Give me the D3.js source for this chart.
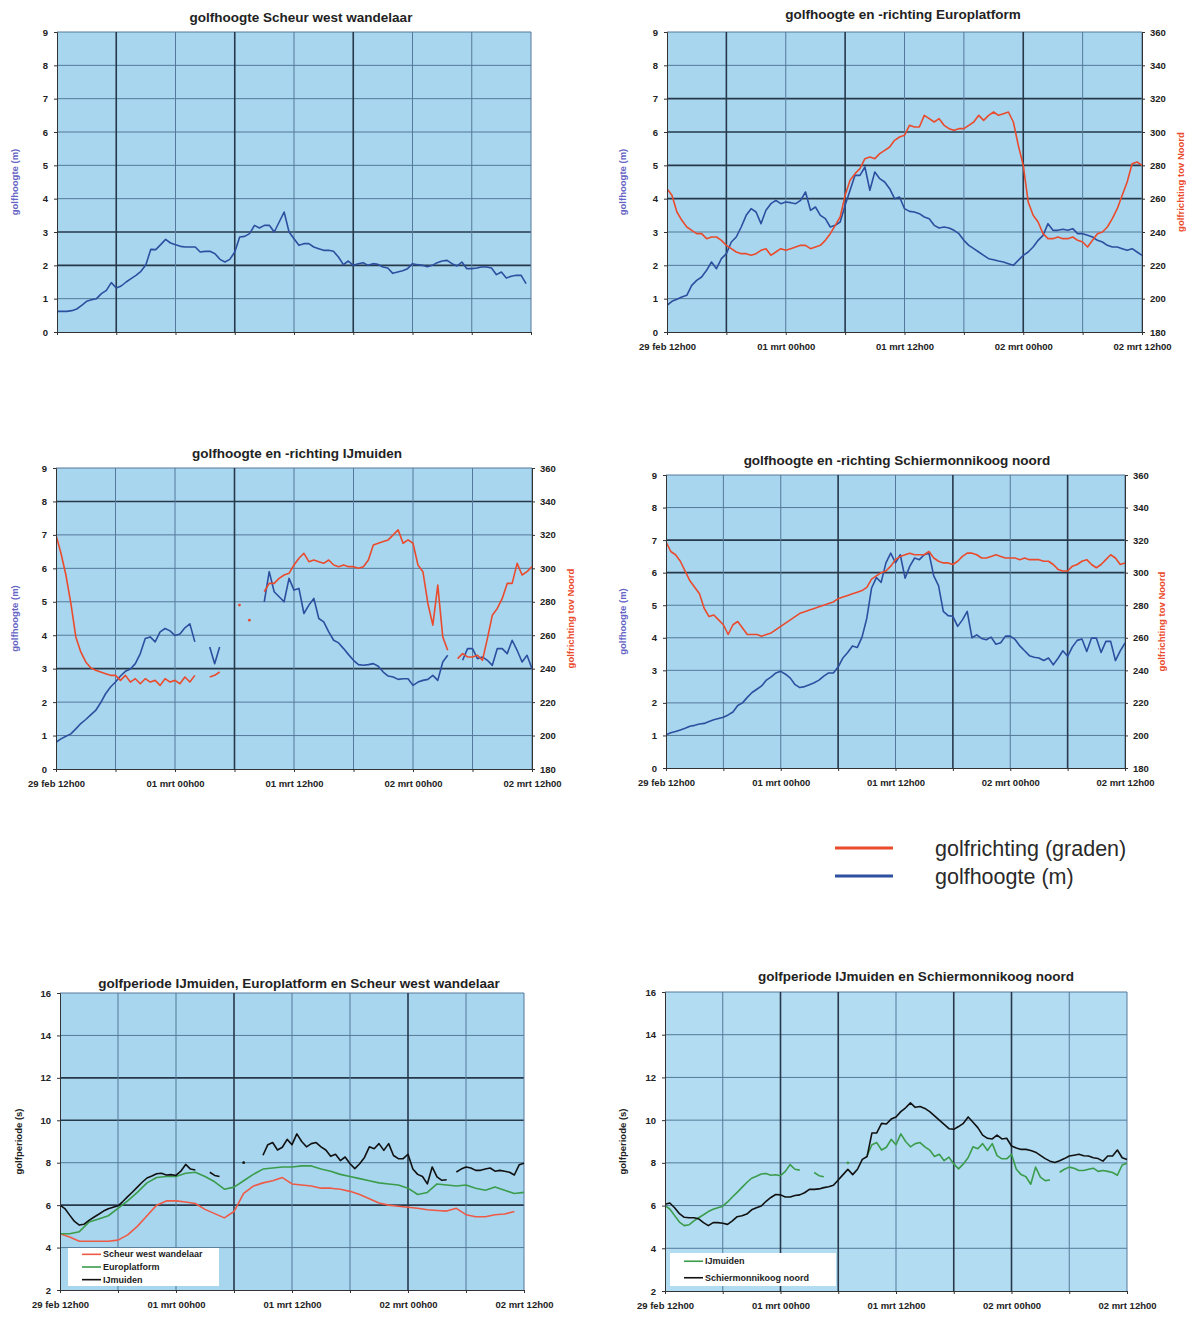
<!DOCTYPE html>
<html><head><meta charset="utf-8">
<script src="https://cdn.jsdelivr.net/npm/d3@7"></script>
<style>body{margin:0;background:#fff}svg{display:block}</style>
</head><body>
<svg id="chart" width="1186" height="1318"></svg>
<script>
// ---------- DATA: 29 feb 12h00 .. 02 mrt 12h00 (hour 0..48); hourly or half-hourly values ----------
const xTickLabels = ["29 feb 12h00", "01 mrt 00h00", "01 mrt 12h00", "02 mrt 00h00", "02 mrt 12h00"];
const gridHours = [0, 6, 12, 18, 24, 30, 36, 42, 48];
const heightTicks = [0, 1, 2, 3, 4, 5, 6, 7, 8, 9];
const dirTicks = [180, 200, 220, 240, 260, 280, 300, 320, 340, 360];
const periodTicks = [2, 4, 6, 8, 10, 12, 14, 16];

// golfhoogte (m) — half-hourly
const scheurHeight = [
  0.62,0.62, 0.62,0.64, 0.69,0.8, 0.92,0.97, 1.0,1.15, 1.25,1.48, 1.32,1.38, 1.5,1.6, 1.7,1.82, 2.02,2.48,
  2.47,2.62, 2.78,2.67, 2.62,2.57, 2.55,2.55, 2.55,2.4, 2.42,2.42, 2.35,2.18, 2.1,2.18, 2.4,2.85, 2.87,2.95,
  3.2,3.12, 3.2,3.2, 3.0,3.3, 3.6,3.0, 2.8,2.6, 2.65,2.65, 2.55,2.5, 2.45,2.45, 2.42,2.25, 2.02,2.13,
  2.0,2.05, 2.08,2.0, 2.05,2.03, 1.95,1.92, 1.76,1.8, 1.84,1.9, 2.05,2.02, 2.0,1.96, 2.0,2.08, 2.13,2.15,
  2.05,1.98, 2.1,1.9, 1.9,1.92, 1.95,1.95, 1.92,1.72, 1.8,1.62, 1.67,1.7, 1.7,1.45, null];
const europlatformHeight = [
  0.8,0.92, 0.98,1.05, 1.1,1.4, 1.55,1.65, 1.85,2.1, 1.9,2.2, 2.35,2.7, 2.85,3.15, 3.5,3.7, 3.6,3.25,
  3.65,3.85, 3.95,3.85, 3.9,3.88, 3.85,3.95, 4.2,3.65, 3.75,3.5, 3.4,3.15, 3.2,3.3, 3.8,4.25, 4.7,4.7,
  4.95,4.25, 4.8,4.6, 4.5,4.3, 4.0,4.05, 3.7,3.62, 3.6,3.55, 3.45,3.4, 3.2,3.12, 3.15,3.12, 3.05,2.95,
  2.75,2.6, 2.5,2.4, 2.3,2.2, 2.17,2.13, 2.1,2.05, 2.0,2.15, 2.3,2.4, 2.55,2.75, 2.9,3.25, 3.05,3.05,
  3.08,3.05, 3.1,2.95, 2.95,2.9, 2.85,2.75, 2.7,2.6, 2.55,2.55, 2.5,2.45, 2.5,2.4, 2.3];
const ijmuidenHeight = [
  0.8,0.9, 0.98,1.05, 1.2,1.36, 1.48,1.62, 1.75,1.98, 2.25,2.45, 2.6,2.78, 2.92,2.99, 3.15,3.45, 3.9,3.95,
  3.8,4.1, 4.2,4.13, 3.99,4.04, 4.22,4.34, 3.8,null, null,3.65, 3.15,3.65, null,null, null,null, null,null,
  null,null, 5.0,5.9, 5.3,5.15, 5.0,5.7, 5.35,5.4, 4.65,4.9, 5.1,4.5, 4.4,4.1, 3.85,3.77, 3.6,3.42,
  3.25,3.12, 3.1,3.12, 3.15,3.07, 2.9,2.78, 2.75,2.68, 2.7,2.7, 2.5,2.6, 2.65,2.68, 2.8,2.65, 3.2,3.4,
  null,null, 3.25,3.6, 3.6,3.3, 3.35,3.25, 3.1,3.6, 3.6,3.45, 3.85,3.55, 3.2,3.4, 3.0];
const schierHeight = [
  1.02,1.08, 1.12,1.17, 1.22,1.28, 1.31,1.35, 1.37,1.43, 1.48,1.52, 1.56,1.63, 1.72,1.92, 2.0,2.17, 2.32,2.42,
  2.52,2.7, 2.8,2.92, 2.97,2.88, 2.76,2.56, 2.47,2.5, 2.56,2.62, 2.7,2.82, 2.92,2.92, 3.1,3.38, 3.55,3.75,
  3.7,4.02, 4.6,5.53, 5.85,5.7, 6.3,6.6, 6.3,6.55, 5.83,6.2, 6.45,6.4, 6.55,6.6, 5.9,5.6, 4.81,4.68,
  4.66,4.35, 4.55,4.81, 4.0,4.09, 3.98,3.94, 4.02,3.8, 3.85,4.05, 4.05,3.95, 3.75,3.6, 3.45,3.4, 3.38,3.3,
  3.38,3.17, 3.37,3.6, 3.43,3.72, 3.92,3.96, 3.58,3.99, 3.99,3.55, 3.89,3.89, 3.3,3.6, 3.84];

// golfrichting tov Noord (graden) — half-hourly
const europlatformDir = [
  266,262, 252,247, 243,241, 239,239, 236,237, 237,235, 232,230, 228,227, 227,226, 227,229,
  230,226, 228,230, 229,230, 231,232, 232,230, 231,232, 235,239, 244,249, 262,271, 275,278,
  284,285, 284,287, 289,291, 295,297, 298,304, 303,303, 310,308, 306,308, 304,302, 301,302,
  302,304, 306,310, 307,310, 312,310, 311,312, 306,292, 280,258, 250,246, 239,236, 236,237,
  236,236, 237,235, 234,231, 235,239, 240,243, 248,254, 262,270, 281,282, 280];
const ijmuidenDir = [
  320,309, 296,279, 259,250, 244,240.5, 239,238, 237,236, 236,233, 236,232, 234,231, 234,232,
  233,230, 234,232, 233,231, 235,232, 236,null, null,235, 236,238, null,null, null,278, null,269,
  null,null, 286,291, 291,294, 296,297, 302,306, 309,304, 305,304, 303,305, 302,301, 302,301,
  301,300, 301,305, 314,315, 316,317, 320,323, 315,317, 315,302, 298,279, 266,290, 259,251,
  null,246, 249,247, 247,248, 245,258, 272,276, 282,291, 291,303, 296,298, 301];
const schierDir = [
  319,313, 311,307, 301,295, 291,287, 278,273, 274,271, 268,262, 268,270, 266,262, 262,262,
  261,262, 263,265, 267,269, 271,273, 275,276, 277,278, 279,280, 281,282, 284,285, 286,287,
  288,289, 291,296, 298,300, 301,304, 308,310, 311,312, 311,311, 311,313, 309,307, 306,306,
  305,307, 310,312, 312,311, 309,309, 310,311, 310,309, 309,309, 308,309, 308,308, 308,307,
  307,305, 302,301, 301,304, 305,307, 308,305, 303,305, 308,311, 309,305, 306];

// golfperiode (s)
const scheurPeriod = [4.65,4.5,4.3,4.3,4.3,4.3,4.35,4.6,5.0,5.5,6.0,6.2,6.2,6.15,6.08,5.8,5.6,5.4,5.7,6.55,6.9,7.05,7.15,7.3,7.0,6.95,6.9,6.8,6.8,6.75,6.65,6.5,6.3,6.1,6.0,5.95,5.9,5.85,5.78,5.75,5.72,5.85,5.55,5.45,5.45,5.55,5.58,5.7,null];
const europlatformPeriod = [4.65,4.65,4.75,5.2,5.35,5.5,5.85,6.2,6.6,7.05,7.3,7.35,7.35,7.5,7.55,7.35,7.1,6.75,6.85,7.15,7.45,7.7,7.75,7.8,7.8,7.85,7.85,7.7,7.6,7.45,7.35,7.25,7.15,7.05,7.0,6.95,6.8,6.5,6.6,7.0,6.95,6.9,6.95,6.8,6.7,6.85,6.7,6.55,6.6];
// half-hourly
const ijmuidenPeriod = [
  6.0,5.84, 5.53,5.23, 5.06,5.1, 5.28,5.43, 5.57,5.72, 5.83,5.9, 5.97,6.17, 6.4,6.62, 6.85,7.08, 7.28,7.37,
  7.48,7.5, 7.42,7.44, 7.4,7.6, 7.92,7.7, 7.66,null, null,7.55, 7.4,7.35, null,null, null,null, 8.0,null,
  null,null, 8.35,8.85, 8.95,8.6, 8.73,9.1, 8.85,9.36, 9.0,8.75, 8.9,8.95, 8.75,8.6, 8.3,8.4, 8.1,8.27,
  7.95,7.72, 7.95,8.25, 8.75,8.66, 8.9,8.58, 8.9,8.34, 8.19,8.19, 8.4,7.7, 7.45,7.35, 7.0,7.8, 7.33,7.17,
  7.2,null, 7.56,7.7, 7.8,7.75, 7.64,7.64, 7.7,7.75, 7.6,7.64, 7.6,7.55, 7.42,7.9, 7.98];
const schierPeriod = [
  6.06,6.12, 5.9,5.62, 5.45,5.43, 5.43,5.38, 5.2,5.06, 5.2,5.2, 5.17,5.12, 5.28,5.48, 5.52,5.6, 5.8,5.9,
  5.98,6.2, 6.38,6.52, 6.5,6.4, 6.4,6.47, 6.5,6.6, 6.76,6.76, 6.78,6.84, 6.88,6.95, 7.2,7.45, 7.7,7.45,
  7.7,8.16, 8.3,9.4, 9.4,9.85, 9.82,10.05, 10.15,10.4, 10.58,10.81, 10.6,10.64, 10.55,10.4, 10.2,10.0, 9.8,9.6,
  9.57,9.7, 9.85,10.15, 9.9,9.65, 9.3,9.15, 9.12,9.3, 9.12,9.15, 8.79,8.7, 8.63,8.63, 8.58,8.5, 8.35,8.2,
  8.08,8.02, 8.1,8.2, 8.32,8.36, 8.4,8.33, 8.32,8.24, 8.2,8.08, 8.32,8.32, 8.6,8.24, 8.16];

// ---------- STYLE ----------
const BLUE = "#2d4f9f", RED = "#ea4b2c", GREEN = "#3b9c4b", BLACK = "#111111", PINK = "#ee5a45";
const MID = "#55799a", DARK = "#26384a";
const FONT = "'Liberation Sans', Arial, sans-serif";
const HALF = 0.5;

const panels = [
  {title:"golfhoogte Scheur west wandelaar", tx:301, ty:22, x0:57, x1:531, y0:32, y1:332,
   left:{domain:[0,9], ticks:heightTicks, label:"golfhoogte (m)", color:"#6464c4", lx:14},
   xLabels:false, darkV:[6,18,30], darkH:[2,3], bg:"#a8d6ef",
   series:[{values:scheurHeight, color:BLUE, step:HALF}]},
  {title:"golfhoogte en -richting Europlatform", tx:903, ty:19, x0:667, x1:1142, y0:32, y1:332,
   left:{domain:[0,9], ticks:heightTicks, label:"golfhoogte (m)", color:"#6464c4", lx:622},
   right:{domain:[180,360], ticks:dirTicks, label:"golfrichting tov Noord", color:RED, lx:1180},
   xLabels:true, darkV:[6,18,36], darkH:[4,5,6,7], bg:"#a8d6ef",
   series:[{values:europlatformHeight, color:BLUE, step:HALF}, {values:europlatformDir, color:RED, right:true, step:HALF}]},
  {title:"golfhoogte en -richting IJmuiden", tx:297, ty:458, x0:56, x1:532, y0:468, y1:769,
   left:{domain:[0,9], ticks:heightTicks, label:"golfhoogte (m)", color:"#6464c4", lx:14},
   right:{domain:[180,360], ticks:dirTicks, label:"golfrichting tov Noord", color:RED, lx:570},
   xLabels:true, darkV:[18], darkH:[3,8], bg:"#a8d6ef",
   series:[{values:ijmuidenHeight, color:BLUE, step:HALF}, {values:ijmuidenDir, color:RED, right:true, step:HALF}]},
  {title:"golfhoogte en -richting Schiermonnikoog noord", tx:897, ty:465, x0:666, x1:1125, y0:475, y1:768,
   left:{domain:[0,9], ticks:heightTicks, label:"golfhoogte (m)", color:"#6464c4", lx:622},
   right:{domain:[180,360], ticks:dirTicks, label:"golfrichting tov Noord", color:RED, lx:1161},
   xLabels:true, darkV:[18,30,42], darkH:[6,7], bg:"#a8d6ef",
   series:[{values:schierHeight, color:BLUE, step:HALF}, {values:schierDir, color:RED, right:true, step:HALF}]},
  {title:"golfperiode IJmuiden, Europlatform en Scheur west wandelaar", tx:299, ty:988, x0:60, x1:524, y0:993, y1:1290,
   left:{domain:[2,16], ticks:periodTicks, label:"golfperiode (s)", color:"#222", lx:18},
   xLabels:true, darkV:[18,36], darkH:[6,10,12], bg:"#a8d6ef",
   series:[{values:scheurPeriod, color:PINK}, {values:europlatformPeriod, color:GREEN}, {values:ijmuidenPeriod, color:BLACK, step:HALF}],
   legend:{x:68, y:1248, w:151, h:38, items:[["Scheur west wandelaar",PINK],["Europlatform",GREEN],["IJmuiden",BLACK]]}},
  {title:"golfperiode IJmuiden en Schiermonnikoog noord", tx:916, ty:981, x0:665, x1:1127, y0:992, y1:1291,
   left:{domain:[2,16], ticks:periodTicks, label:"golfperiode (s)", color:"#222", lx:622},
   xLabels:true, darkV:[12,18,30,36], darkH:[], bg:"#b2dcf2",
   series:[{values:ijmuidenPeriod, color:GREEN, step:HALF}, {values:schierPeriod, color:BLACK, step:HALF}],
   legend:{x:670, y:1253, w:166, h:33, items:[["IJmuiden",GREEN],["Schiermonnikoog noord",BLACK]]}}
];

const svg = d3.select("#chart");

function styleAxis(sel) {
  sel.select("path.domain").attr("stroke", "#333").attr("stroke-width", 1);
  sel.selectAll(".tick line").attr("stroke", "#333");
  sel.selectAll(".tick text").attr("font-family", FONT).attr("font-size", 9.5)
     .attr("font-weight", "bold").attr("fill", "#222");
}

panels.forEach((p, pi) => {
  const g = svg.append("g");
  const x = d3.scaleLinear().domain([0, 48]).range([p.x0, p.x1]);
  const yL = d3.scaleLinear().domain(p.left.domain).range([p.y1, p.y0]);
  const yR = p.right ? d3.scaleLinear().domain(p.right.domain).range([p.y1, p.y0]) : null;

  g.append("rect").attr("x", p.x0).attr("y", p.y0).attr("width", p.x1 - p.x0).attr("height", p.y1 - p.y0).attr("fill", p.bg);

  p.left.ticks.slice(1).forEach(t => {
    const dark = p.darkH.includes(t);
    g.append("line").attr("x1", p.x0).attr("x2", p.x1).attr("y1", yL(t)).attr("y2", yL(t))
      .attr("stroke", dark ? DARK : MID).attr("stroke-width", dark ? 1.6 : 1);
  });
  gridHours.slice(1).forEach(h => {
    const dark = p.darkV.includes(h);
    g.append("line").attr("x1", x(h)).attr("x2", x(h)).attr("y1", p.y0).attr("y2", p.y1)
      .attr("stroke", dark ? DARK : MID).attr("stroke-width", dark ? 1.6 : 1);
  });

  const clipId = "clip" + pi;
  g.append("clipPath").attr("id", clipId).append("rect")
    .attr("x", p.x0).attr("y", p.y0 - 2).attr("width", p.x1 - p.x0 + 2).attr("height", p.y1 - p.y0 + 2);
  const sg = g.append("g").attr("clip-path", `url(#${clipId})`);
  p.series.forEach(s => {
    const y = s.right ? yR : yL;
    const step = s.step || 1;
    const pts = s.values.map((v, i) => ({h: i * step, v}));
    const line = d3.line().defined(d => d.v != null).x(d => x(d.h)).y(d => y(d.v));
    sg.append("path").datum(pts).attr("d", line).attr("fill", "none")
      .attr("stroke", s.color).attr("stroke-width", 1.6).attr("stroke-linejoin", "round");
    const iso = pts.filter((d, i) => d.v != null && (i === 0 || pts[i - 1].v == null) && (i === pts.length - 1 || pts[i + 1].v == null));
    sg.selectAll(null).data(iso).join("circle").attr("cx", d => x(d.h)).attr("cy", d => y(d.v))
      .attr("r", 1.4).attr("fill", s.color);
  });

  g.append("g").attr("transform", `translate(${p.x0},0)`)
    .call(d3.axisLeft(yL).tickValues(p.left.ticks).tickSize(3).tickPadding(6).tickFormat(d3.format("d")))
    .call(styleAxis);
  if (p.right) {
    g.append("g").attr("transform", `translate(${p.x1},0)`)
      .call(d3.axisRight(yR).tickValues(p.right.ticks).tickSize(3).tickPadding(5).tickFormat(d3.format("d")))
      .call(styleAxis);
  }
  g.append("g").attr("transform", `translate(0,${p.y1})`)
    .call(d3.axisBottom(x).tickValues(gridHours).tickSize(3).tickPadding(8)
      .tickFormat(d => (p.xLabels && d % 12 === 0) ? xTickLabels[d / 12] : ""))
    .call(styleAxis);

  g.append("text").attr("x", p.tx).attr("y", p.ty).attr("text-anchor", "middle")
    .attr("font-family", FONT).attr("font-size", 13.5).attr("font-weight", "bold").attr("fill", "#222")
    .text(p.title);

  const my = (p.y0 + p.y1) / 2;
  g.append("text").attr("transform", `translate(${p.left.lx},${my}) rotate(-90)`)
    .attr("text-anchor", "middle").attr("dominant-baseline", "central")
    .attr("font-family", FONT).attr("font-size", 9.5).attr("font-weight", "bold").attr("fill", p.left.color)
    .text(p.left.label);
  if (p.right) {
    g.append("text").attr("transform", `translate(${p.right.lx},${my}) rotate(-90)`)
      .attr("text-anchor", "middle").attr("dominant-baseline", "central")
      .attr("font-family", FONT).attr("font-size", 9.5).attr("font-weight", "bold").attr("fill", p.right.color)
      .text(p.right.label);
  }

  if (p.legend) {
    const L = p.legend;
    g.append("rect").attr("x", L.x).attr("y", L.y).attr("width", L.w).attr("height", L.h).attr("fill", "#fff");
    const rowH = L.h / L.items.length;
    L.items.forEach((it, i) => {
      const cy = L.y + rowH * (i + 0.5);
      g.append("line").attr("x1", L.x + 14).attr("x2", L.x + 33).attr("y1", cy).attr("y2", cy)
        .attr("stroke", it[1]).attr("stroke-width", 1.6);
      g.append("text").attr("x", L.x + 35).attr("y", cy).attr("dominant-baseline", "central")
        .attr("font-family", FONT).attr("font-size", 9).attr("font-weight", "bold").attr("fill", "#222")
        .text(it[0]);
    });
  }
});

const bigLegend = [["golfrichting (graden)", RED], ["golfhoogte (m)", BLUE]];
bigLegend.forEach((it, i) => {
  const cy = 848 + i * 28;
  svg.append("line").attr("x1", 835).attr("x2", 893).attr("y1", cy).attr("y2", cy)
    .attr("stroke", it[1]).attr("stroke-width", 3);
  svg.append("text").attr("x", 935).attr("y", cy + 1).attr("dominant-baseline", "central")
    .attr("font-family", FONT).attr("font-size", 21.5).attr("fill", "#2a2a2a").text(it[0]);
});
</script>
</body></html>
